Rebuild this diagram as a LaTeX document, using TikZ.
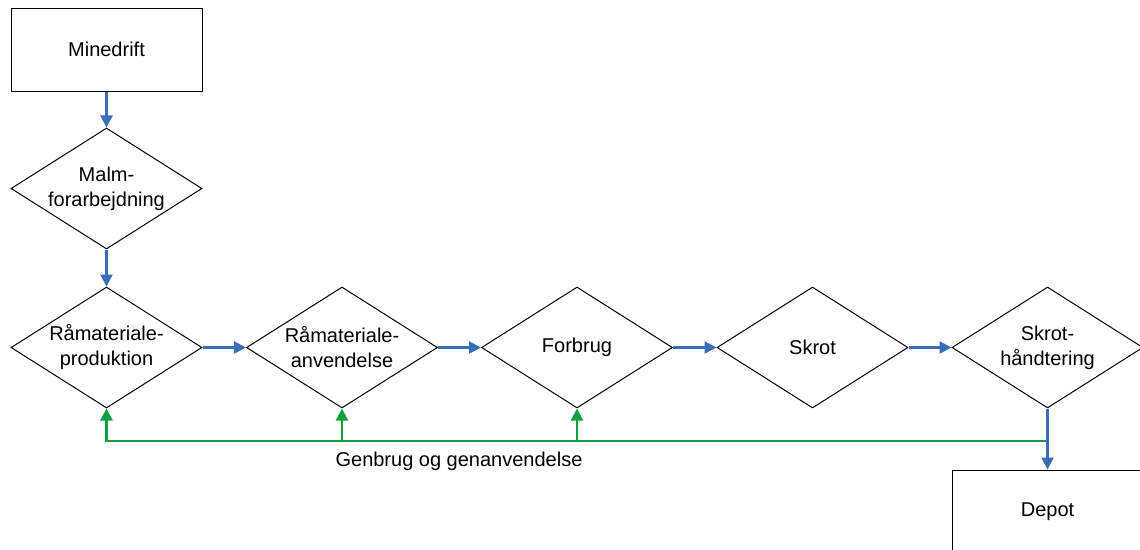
\documentclass[tikz,border=0pt]{standalone}
\usepackage{fontspec}
\setmainfont{Liberation Sans}
\usetikzlibrary{shapes.geometric,arrows.meta}
\definecolor{flowblue}{RGB}{58,109,184}
\definecolor{flowgreen}{RGB}{16,160,64}
\tikzset{
  box/.style={draw=black, line width=1pt, rectangle, minimum width=191pt, minimum height=83pt, inner sep=0pt, align=center},
  dia/.style={draw=black, line width=1pt, diamond, aspect=1.58, minimum width=191pt, minimum height=121pt, inner sep=0pt, align=center},
  bluearrow/.style={draw=flowblue, line width=2.3pt, -{Triangle[length=12pt,width=12pt]}},
  greenarrow/.style={draw=flowgreen, line width=2.3pt, -{Triangle[length=12pt,width=12pt]}},
}
\begin{document}
\begin{tikzpicture}[x=1pt,y=-1pt, font=\fontsize{20}{25}\selectfont]
\clip (0,0) rectangle (1140,549);
\node[box] (mine) at (106.5,49.5) {Minedrift};
\node[dia] (malm) at (106.5,188.5) {Malm-\\forarbejdning};
\node[dia] (rprod) at (106.5,347.5) {Råmateriale-\\produktion};
\node[dia] (ranv) at (342,347.5) {Råmateriale-\\anvendelse};
\node[dia] (forb) at (577,347.5) {Forbrug};
\node[dia] (skrot) at (812.5,347.5) {Skrot};
\node[dia] (skrh) at (1047.5,347.5) {Skrot-\\håndtering};
\node[box] (depot) at (1047.5,511.5) {Depot};
\coordinate (g) at (1047.5,441);
\node (lbl) at (459,461) {Genbrug og genanvendelse};

\draw[bluearrow] (mine) -- (malm);
\draw[bluearrow] (malm) -- (rprod);
\draw[bluearrow] (rprod) -- (ranv);
\draw[bluearrow] (ranv) -- (forb);
\draw[bluearrow] (forb) -- (skrot);
\draw[bluearrow] (skrot) -- (skrh);
\draw[greenarrow] (g) -| (rprod.south);
\draw[greenarrow] (ranv.south |- g) -- (ranv.south);
\draw[greenarrow] (forb.south |- g) -- (forb.south);
\draw[bluearrow] (skrh) -- (depot);
\end{tikzpicture}
\end{document}
